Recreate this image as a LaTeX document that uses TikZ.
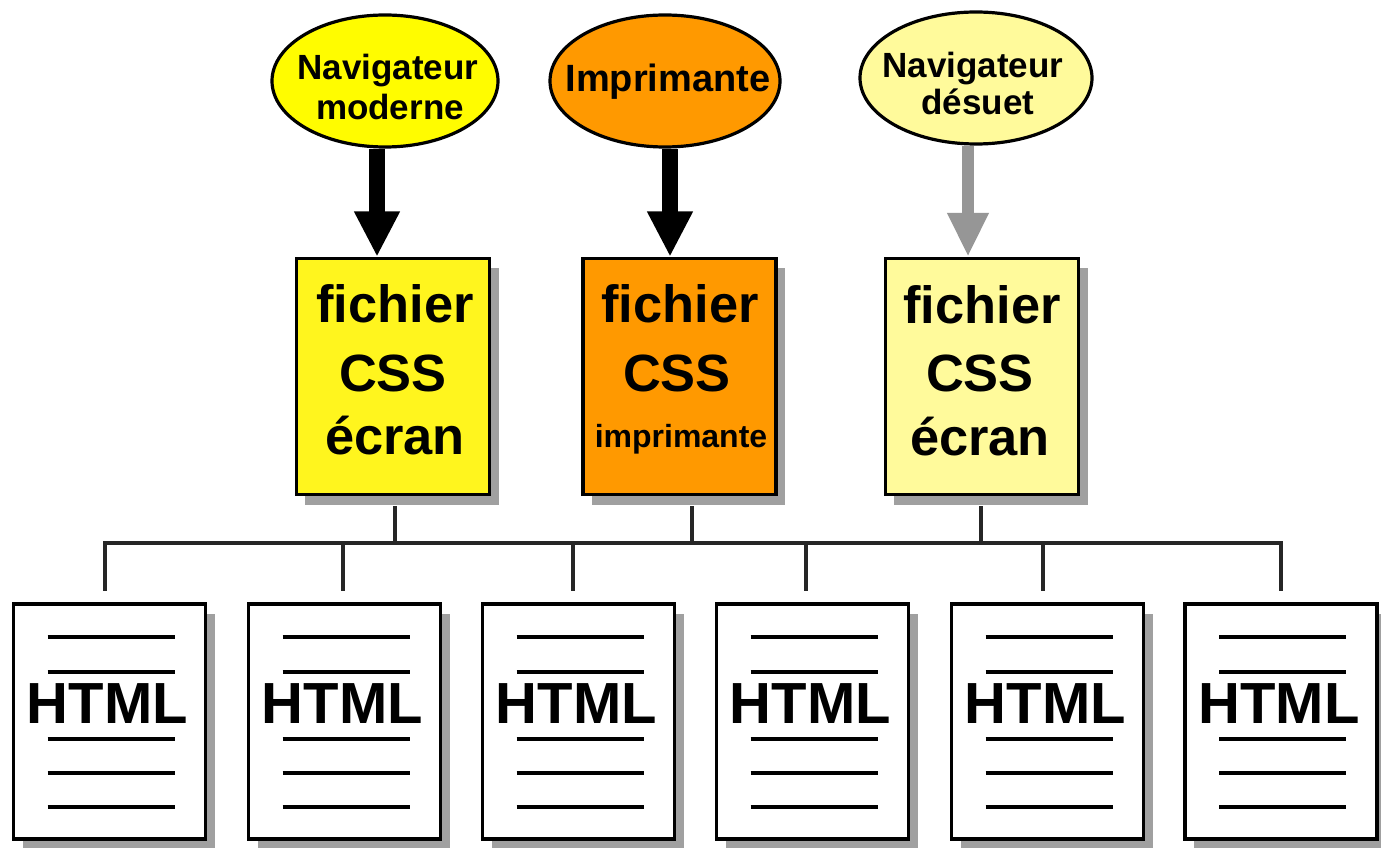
\documentclass[tikz,border=0pt]{standalone}
\usepackage{fontspec}
\setmainfont{Liberation Sans}
\usetikzlibrary{shapes.geometric,arrows.meta,shadows}
\definecolor{cyel}{RGB}{255,245,30}
\definecolor{cyelE}{RGB}{255,252,0}
\definecolor{corange}{RGB}{255,153,0}
\definecolor{clight}{RGB}{255,250,155}
\definecolor{cshadow}{RGB}{160,160,160}
\definecolor{cgrayarrow}{RGB}{150,150,150}
\begin{document}
\begin{tikzpicture}[x=0.75pt,y=-0.75pt,
  shad/.style={drop shadow={shadow xshift=6.75pt,shadow yshift=-7.5pt,fill=cshadow,opacity=1}},
  ell/.style={ellipse,draw=black,line width=2.4pt,minimum height=99pt,inner sep=0pt},
  elltxt/.style={anchor=base,inner sep=0pt,font=\bfseries\fontsize{26.25}{30}\selectfont},
  cssbox/.style={rectangle,draw=black,line width=2.6pt,minimum width=145pt,minimum height=177pt,inner sep=0pt,shad},
  csstxt/.style={anchor=base,inner sep=0pt,font=\bfseries\fontsize{39.3}{44}\selectfont},
  htmlbox/.style={rectangle,draw=black,line width=2.6pt,fill=white,minimum width=144pt,minimum height=176pt,inner sep=0pt,shad},
  htmltxt/.style={anchor=base,inner sep=0pt,font=\bfseries\fontsize{43.5}{50}\selectfont},
  doclines/.style={line width=2.6pt},
  conn/.style={line width=2.6pt,draw=black!85},
  bigarrow/.style={line width=12pt,-{Triangle[width=32pt,length=34pt]}},
  grayarrow/.style={line width=9pt,draw=cgrayarrow,-{Triangle[width=29pt,length=33pt]}}
]
\useasboundingbox[fill=white] (0,0) rectangle (1381,848);

% ellipses
\node[ell,fill=cyelE,minimum width=169.5pt] (e1) at (385,81) {};
\node[ell,fill=corange,minimum width=172.5pt] (e2) at (665,81) {};
\node[ell,fill=clight,minimum width=174pt] (e3) at (976,78) {};
\node[elltxt] (e1a) at (388,80) {Navigateur};
\node[elltxt] (e1b) at (390,120) {moderne};
\node[elltxt,font=\bfseries\fontsize{28.5}{32}\selectfont] (e2a) at (668,92) {Imprimante};
\node[elltxt] (e3a) at (973,78) {Navigateur};
\node[elltxt] (e3b) at (978,115) {désuet};

% CSS boxes
\node[cssbox,fill=cyel] (b1) at (393,376.5) {};
\node[cssbox,fill=corange] (b2) at (679.5,376.5) {};
\node[cssbox,fill=clight] (b3) at (982,376.5) {};
\node[csstxt] (b1a) at (395,323) {fichier};
\node[csstxt] (b1b) at (393,392) {CSS};
\node[csstxt] (b1c) at (395,454) {écran};
\node[csstxt] (b2a) at (680,323) {fichier};
\node[csstxt] (b2b) at (677,392) {CSS};
\node[anchor=base,inner sep=0pt,font=\bfseries\fontsize{24}{28}\selectfont] (b2c) at (681,447) {imprimante};
\node[csstxt] (b3a) at (982,324) {fichier};
\node[csstxt] (b3b) at (980,392) {CSS};
\node[csstxt] (b3c) at (980,455) {écran};

% arrows
\draw[bigarrow] ([xshift=-6pt]e1.south) -- ([xshift=-12pt]b1.north);
\draw[bigarrow] ([xshift=3.75pt]e2.south) -- ([xshift=-7.125pt]b2.north);
\draw[grayarrow] ([xshift=-6pt]e3.south) -- ([xshift=-10.5pt]b3.north);

% HTML boxes
\foreach \i/\cx/\dx in {1/109.5/105,2/344.5/343,3/578.5/573,4/812.5/806,5/1047.5/1043,6/1281/1281}{
  \node[htmlbox] (h\i) at (\cx,721.5) {};
  \node[htmltxt] (h\i t) at (\cx-2,723) {HTML};
  \foreach \ly in {-84.5,-49.5,17.5,51.5,85.5}{
    \draw[doclines] ([xshift=-46.5pt,yshift=-0.75*\ly pt]h\i.center) -- ([xshift=48.75pt,yshift=-0.75*\ly pt]h\i.center);
  }
  \coordinate (d\i) at (\dx,543);
  \draw[conn,shorten >=8.25pt] (d\i) -- (d\i |- h\i.north);
}
\draw[conn,line cap=rect] (d1) -- (d6);

% CSS drops to bus
\draw[conn,shorten <=7.5pt] ([xshift=1.5pt]b1.south) -- ([xshift=1.5pt]b1.south |- d1);
\draw[conn,shorten <=7.5pt] ([xshift=9.4pt]b2.south) -- ([xshift=9.4pt]b2.south |- d1);
\draw[conn,shorten <=7.5pt] ([xshift=-0.75pt]b3.south) -- ([xshift=-0.75pt]b3.south |- d1);
\end{tikzpicture}
\end{document}
